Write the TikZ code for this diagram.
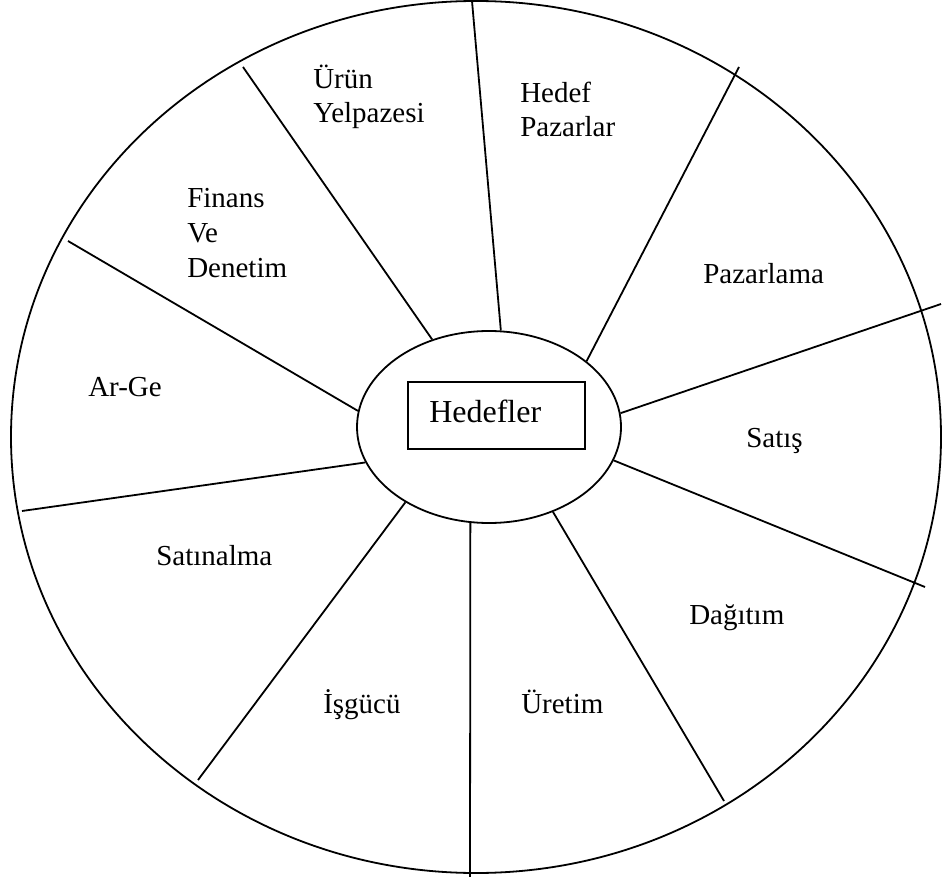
\documentclass[tikz,border=0pt]{standalone}
\usepackage{fontspec}
\setmainfont{Liberation Serif}
\newfontfamily\tnr{Liberation Serif}
\usetikzlibrary{shapes.geometric}
\begin{document}
\begin{tikzpicture}[x=0.75pt,y=-0.75pt,
  lbl/.style={anchor=base west, inner sep=0pt, align=left,
    font=\tnr\fontsize{21.75pt}{25.9pt}\selectfont},
  spoke/.style={draw, line width=1.35pt},
  ring/.style={draw, ellipse, inner sep=0pt, line width=1.35pt}]
\fill[white] (0,0) rectangle (942,877);
\useasboundingbox (0,0) rectangle (942,877);
% outer wheel and hub
\node[ring, minimum width=697.5pt, minimum height=654pt] (rim) at (476,437) {};
\node[ring, minimum width=198pt, minimum height=144pt] (hub) at (489,427) {};
\node[draw, line width=1.35pt, inner sep=0pt, minimum width=132.75pt, minimum height=50.25pt] (box) at (496.5,415.5) {};
\node[anchor=base west, inner sep=0pt, font=\tnr\fontsize{24pt}{28pt}\selectfont] (hedefler) at (429,422) {Hedefler};
% outer ends of the spokes
\coordinate (o1) at (243,67);
\coordinate (o2) at (472,1);
\coordinate (o3) at (739,67);
\coordinate (o4) at (941,304);
\coordinate (o5) at (925,587);
\coordinate (o6) at (724,801);
\coordinate (o7) at (470,877);
\coordinate (o8) at (198,780);
\coordinate (o9) at (22,511);
\coordinate (o10) at (68,241);
% spokes
\draw[spoke] (hub.123.8) -- (o1);
\draw[spoke] (hub.83.4) -- (o2);
\draw[spoke] (hub.34.2) -- (o3);
\draw[spoke] (hub.6) -- (o4);
\draw[spoke] (hub.-15.9) -- (o5);
\draw[spoke] (hub.-53.7) -- (o6);
\draw[spoke] (hub.-101) -- (o7);
\draw[spoke] (hub.222.4) -- (o8);
\draw[spoke] (hub.196.1) -- (o9);
\draw[spoke] (hub.173.9) -- (o10);
% labels (base = baseline of the last line)
\node[lbl] (urun) at (313,123) {Ürün\\Yelpazesi};
\node[lbl] (hedef) at (520,137) {Hedef\\Pazarlar};
\node[lbl] (finans) at (187,277) {Finans\\Ve\\Denetim};
\node[lbl] (pazarlama) at (703,284) {Pazarlama};
\node[lbl] (arge) at (88,396) {Ar-Ge};
\node[lbl] (satis) at (746,447) {Satış};
\node[lbl] (satinalma) at (156,565) {Satınalma};
\node[lbl] (dagitim) at (689,624) {Dağıtım};
\node[lbl] (isgucu) at (323,713) {İşgücü};
\node[lbl] (uretim) at (521,713) {Üretim};
\end{tikzpicture}
\end{document}
